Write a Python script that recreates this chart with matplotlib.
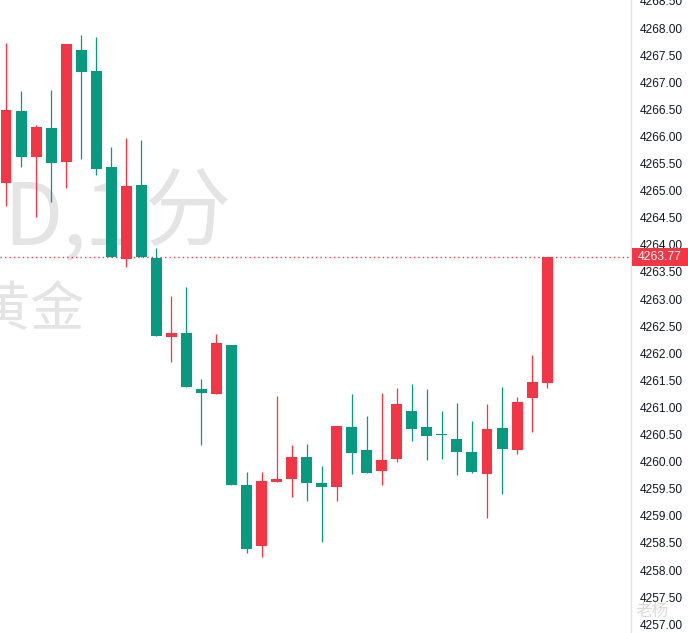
import matplotlib
matplotlib.use("Agg")
import matplotlib.pyplot as plt
import matplotlib.transforms as mtransforms
from matplotlib.patches import Rectangle

# ---- data (1-minute gold candles) ----
opens = [4265.14, 4266.47, 4265.62, 4266.15, 4265.53, 4267.59, 4267.21, 4265.44, 4263.74, 4265.10,
         4263.76, 4262.30, 4262.37, 4261.34, 4261.25, 4262.15, 4259.57, 4258.44, 4259.62, 4259.68,
         4260.08, 4259.61, 4259.53, 4260.64, 4260.21, 4259.83, 4260.05, 4260.93, 4260.64, 4260.49,
         4260.42, 4260.18, 4259.77, 4260.62, 4260.21, 4261.17, 4261.45]
highs = [4267.72, 4266.84, 4266.21, 4266.86, 4267.70, 4267.87, 4267.83, 4265.80, 4265.97, 4265.93,
         4263.94, 4263.06, 4263.22, 4261.52, 4262.35, 4262.15, 4259.81, 4259.81, 4261.21, 4260.31,
         4260.32, 4259.92, 4260.66, 4261.25, 4260.84, 4261.27, 4261.36, 4261.43, 4261.34, 4260.93,
         4261.08, 4260.75, 4261.06, 4261.38, 4261.19, 4261.97, 4263.77]
lows = [4264.72, 4265.44, 4264.51, 4264.79, 4265.05, 4265.58, 4265.29, 4263.77, 4263.59, 4263.77,
        4262.32, 4261.84, 4261.38, 4260.31, 4261.25, 4259.57, 4258.31, 4258.24, 4259.62, 4259.35,
        4259.27, 4258.52, 4259.27, 4259.77, 4259.79, 4259.57, 4259.99, 4260.38, 4260.03, 4260.05,
        4259.75, 4259.79, 4258.96, 4259.40, 4260.14, 4260.55, 4261.36]
closes = [4266.49, 4265.62, 4266.17, 4265.51, 4267.70, 4267.19, 4265.40, 4263.77, 4265.08, 4263.77,
          4262.32, 4262.37, 4261.38, 4261.27, 4262.19, 4259.57, 4258.39, 4259.64, 4259.68, 4260.08,
          4259.61, 4259.53, 4260.66, 4260.16, 4259.79, 4260.03, 4261.06, 4260.60, 4260.47, 4260.49,
          4260.18, 4259.81, 4260.60, 4260.23, 4261.10, 4261.47, 4263.77]
last_price = 4263.77
yticks = [4257.0 + 0.5 * k for k in range(24)]
wm_parts = ["D,", "1", "分"]
symbol_wm = "黄金"
corner_wm = "老杨"

UP = "#F23645"    # red = rising
DOWN = "#089981"  # green = falling
WM = "#e4e4e4"
CJK = ["Noto Sans CJK SC", "DejaVu Sans"]

W, H = 688, 633
fig = plt.figure(figsize=(W / 100, H / 100), dpi=100)
fig.patch.set_facecolor("white")
ax = fig.add_axes([0, 0, 631 / W, 1])
ax.set_facecolor("white")

ft = fig.transFigure
# watermark text (behind the candles)
ax.text(3 / W, 1 - 245 / H, wm_parts[0], transform=ft, fontsize=62, color=WM, ha="left",
        va="baseline", family=CJK, zorder=0, clip_on=False)
ax.text(107 / W, 1 - 245 / H, wm_parts[1], transform=ft, fontsize=62, color=WM, ha="center",
        va="baseline", family=CJK, zorder=0, clip_on=False)
ax.text(187 / W, 1 - 215 / H, wm_parts[2], transform=ft, fontsize=62, color=WM, ha="center",
        va="center", family=CJK, zorder=0, clip_on=False)
ax.text(84 / W, 1 - 310 / H, symbol_wm, transform=ft, fontsize=39, color=WM, ha="right",
        va="center", family=CJK, zorder=0, clip_on=False)

bw = 0.73
for i, (o, h, l, c) in enumerate(zip(opens, highs, lows, closes)):
    col = UP if c > o else DOWN
    ax.vlines(i, l, h, color=col, linewidth=0.9, zorder=3)
    bot = min(o, c)
    hgt = max(abs(c - o), 0.025)
    ax.add_patch(Rectangle((i - bw / 2, bot), bw, hgt, facecolor=col, edgecolor="none", zorder=4))

ax.axhline(last_price, color=UP, linewidth=1.0, linestyle=(0, (1, 2.2)), zorder=2)

ax.set_xlim(-0.4, 41.58)
ax.set_ylim(4256.838, 4268.517)
ax.set_xticks([])
ax.yaxis.tick_right()
ax.set_yticks(yticks)
ax.set_yticklabels([f"{v:.2f}" for v in yticks])
ax.tick_params(axis="y", length=0, pad=6.5, labelsize=8.6, labelcolor="#131722")
for lab in ax.get_yticklabels():
    lab.set_family("Liberation Sans")
for s in ["left", "top", "bottom"]:
    ax.spines[s].set_visible(False)
ax.spines["right"].set_color("#e0e3eb")
ax.spines["right"].set_linewidth(1.0)

# last price label
tr = mtransforms.blended_transform_factory(fig.transFigure, ax.transData)
hh = 18 / 54.2
fig.add_artist(Rectangle((632 / W, last_price - hh / 2), 56 / W, hh, transform=tr,
                         facecolor=UP, edgecolor="none", clip_on=False, zorder=5))
fig.text(660 / W, last_price, f"{last_price:.2f}", transform=tr, ha="center", va="center",
         fontsize=8.8, color="white", family="Liberation Sans", zorder=6)

# faint corner watermark
fig.text(652 / W, 1 - 611 / H, corner_wm, fontsize=12, color="#dadada", ha="center", va="center",
         family=CJK, zorder=7)

fig.savefig("out.png", dpi=100, facecolor="white")
